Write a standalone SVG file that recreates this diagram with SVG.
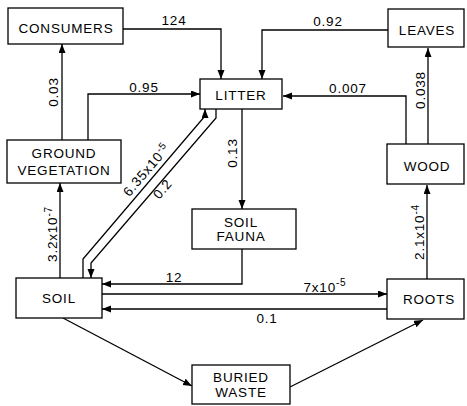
<svg xmlns="http://www.w3.org/2000/svg" width="467" height="406" viewBox="0 0 467 406">
<defs>
<marker id="ah" markerUnits="userSpaceOnUse" markerWidth="10" markerHeight="8" refX="9" refY="3.5" orient="auto">
<path d="M0,0 L9,3.5 L0,7 z" fill="#000"/>
</marker>
<style>
.box{fill:#fff;stroke:#000;stroke-width:1.3}
.t{font-family:"Liberation Sans",Arial,sans-serif;font-size:13.5px;letter-spacing:0.8px;fill:#000;text-anchor:middle}
.c{fill:none;stroke:#000;stroke-width:1.3;marker-end:url(#ah)}
.sup{font-size:10px}
</style>
</defs>
<rect width="467" height="406" fill="#fff"/>
<g id="connectors">
<path class="c" d="M123,29 H221 V79"/>
<path class="c" d="M388,30 H262 V79"/>
<path class="c" d="M406,144 V96 H283"/>
<path class="c" d="M428,144 V48"/>
<path class="c" d="M427,279 V185"/>
<path class="c" d="M62,140 V44"/>
<path class="c" d="M88,140 V94 H200"/>
<path class="c" d="M60,278 V183"/>
<path class="c" d="M83,278 V259 L205,116 V109"/>
<path class="c" d="M216,109 V118 L91,263 V278"/>
<path class="c" d="M242,109 V209"/>
<path class="c" d="M242,249 V284 H102"/>
<path class="c" d="M102,294 H387"/>
<path class="c" d="M387,309 H102"/>
<path class="c" d="M63,318 L192,386"/>
<path class="c" d="M290,387 L423,320"/>
</g>
<g id="labels">
<text class="t" x="174" y="25">124</text>
<text class="t" x="144" y="92">0.95</text>
<text class="t" x="328" y="26">0.92</text>
<text class="t" x="348" y="93">0.007</text>
<text class="t" transform="translate(425,90) rotate(-90)">0.038</text>
<text class="t" transform="translate(58,92) rotate(-90)">0.03</text>
<text class="t" transform="translate(57,234) rotate(-90)">3.2x10<tspan class="sup" dy="-5">-7</tspan></text>
<text class="t" transform="translate(424,232) rotate(-90)">2.1x10<tspan class="sup" dy="-5">-4</tspan></text>
<text class="t" transform="translate(237,153) rotate(-90)">0.13</text>
<text class="t" x="174" y="282">12</text>
<text class="t" x="325" y="292">7x10<tspan class="sup" dy="-6">-5</tspan></text>
<text class="t" x="267" y="323">0.1</text>
<text class="t" transform="translate(150,173) rotate(-49.5)">6.35x10<tspan class="sup" dy="-5">-5</tspan></text>
<text class="t" transform="translate(166,192) rotate(-49.5)">0.2</text>
</g>
<g id="consumers"><rect class="box" x="8" y="8" width="115" height="36"/><text class="t" x="66" y="33">CONSUMERS</text></g>
<g id="leaves"><rect class="box" x="388" y="9" width="76" height="38"/><text class="t" x="427" y="35">LEAVES</text></g>
<g id="litter"><rect class="box" x="200" y="79" width="82" height="30"/><text class="t" x="241" y="100">LITTER</text></g>
<g id="ground-vegetation"><rect class="box" x="7" y="140" width="114" height="43"/><text class="t" x="64" y="158">GROUND</text><text class="t" x="64" y="175">VEGETATION</text></g>
<g id="wood"><rect class="box" x="387" y="144" width="77" height="40"/><text class="t" x="427" y="171">WOOD</text></g>
<g id="soil-fauna"><rect class="box" x="192" y="209" width="104" height="40"/><text class="t" x="241" y="227">SOIL</text><text class="t" x="241" y="241">FAUNA</text></g>
<g id="soil"><rect class="box" x="16" y="278" width="86" height="40"/><text class="t" x="59" y="303">SOIL</text></g>
<g id="roots"><rect class="box" x="387" y="279" width="77" height="40"/><text class="t" x="429" y="304">ROOTS</text></g>
<g id="buried-waste"><rect class="box" x="192" y="365" width="98" height="39"/><text class="t" x="241" y="382">BURIED</text><text class="t" x="241" y="397">WASTE</text></g>
</svg>
